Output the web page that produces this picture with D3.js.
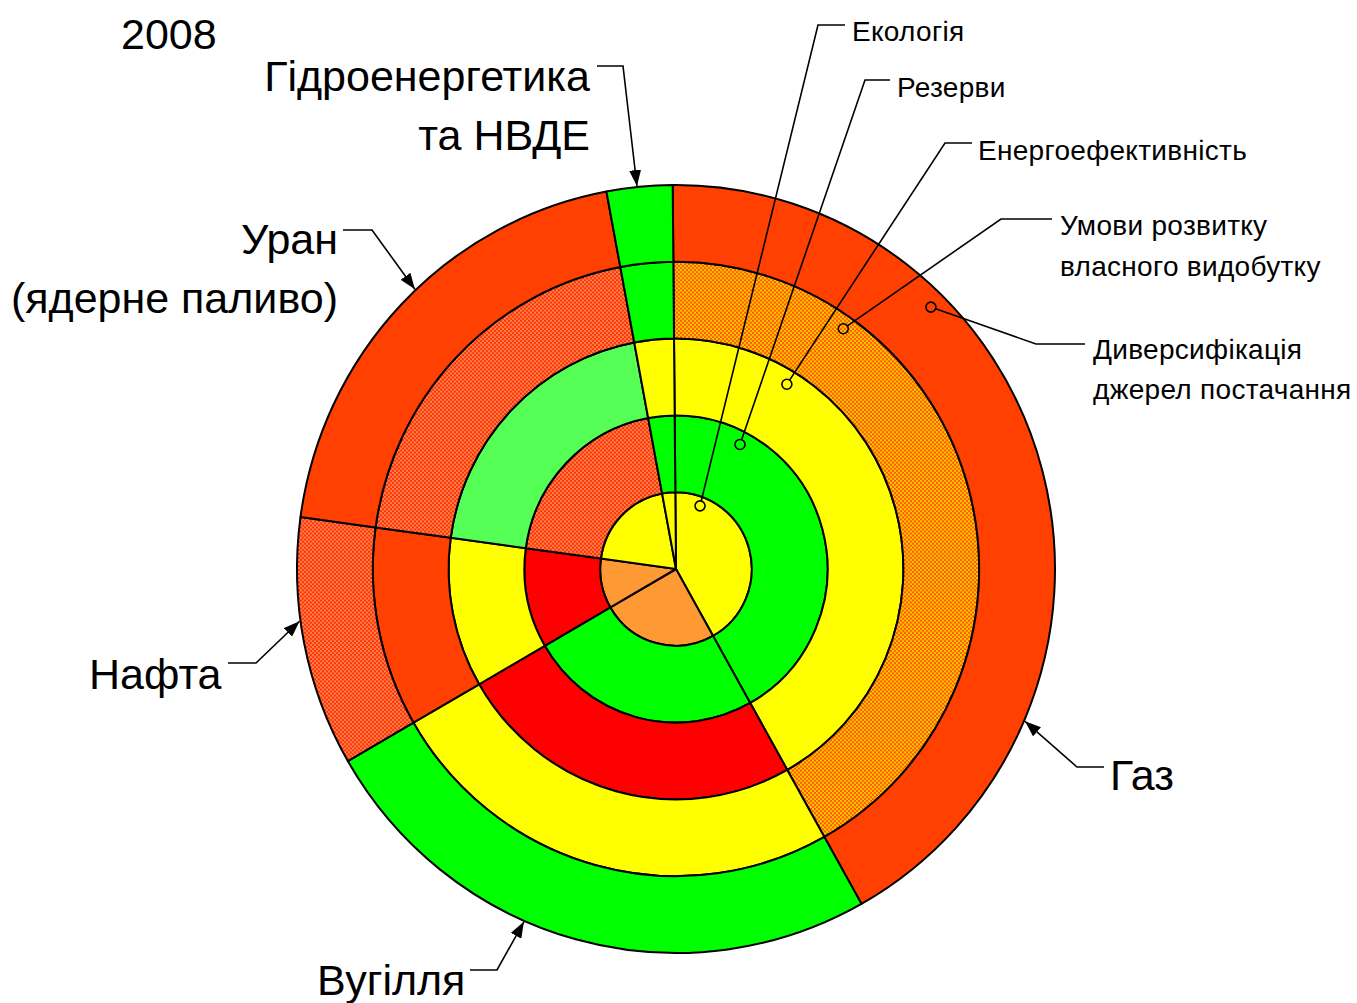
<!DOCTYPE html>
<html><head><meta charset="utf-8">
<script src="https://cdn.jsdelivr.net/npm/d3@7"></script>
<style>body{margin:0;background:#fff}text{font-family:"Liberation Sans",Arial,sans-serif;fill:#000}</style>
</head><body><svg id="c" width="1357" height="1003"></svg>
<script>
// ---------- data ----------
const fuels = ["Газ", "Вугілля", "Нафта", "Уран", "Гідроенергетика та НВДЕ"];
const shares = [42.0, 24.8, 10.5, 19.9, 2.8];
const rings = ["Екологія", "Резерви", "Енергоефективність", "Умови розвитку власного видобутку", "Диверсифікація джерел постачання"];
// rating of each fuel (Газ, Вугілля, Нафта, Уран, Гідро) per ring, inner -> outer
const ringEcology     = ["yellow", "orange", "orange", "yellow", "yellow"];
const ringReserves    = ["green", "green", "red", "hatchRed", "green"];
const ringEfficiency  = ["yellow", "red", "yellow", "lightGreen", "yellow"];
const ringProduction  = ["hatchOrange", "yellow", "redOrange", "hatchRed", "green"];
const ringDiversity   = ["redOrange", "green", "hatchRed", "redOrange", "green"];
const ringRatings = [ringEcology, ringReserves, ringEfficiency, ringProduction, ringDiversity];
const fuelLabelLines = [["Газ"], ["Вугілля"], ["Нафта"], ["Уран", "(ядерне паливо)"], ["Гідроенергетика", "та НВДЕ"]];
const ringLabelLines = [["Екологія"], ["Резерви"], ["Енергоефективність"], ["Умови розвитку", "власного видобутку"], ["Диверсифікація", "джерел постачання"]];
const title = "2008";

// ---------- layout ----------
const W = 1357, H = 1003, cx = 676, cy = 569, R = 379, sy = 1.0132;
const colors = {yellow:"#ffff00", orange:"#ff9933", green:"#00ff00", lightGreen:"#55ff55",
  red:"#ff0000", redOrange:"#ff4000", hatchRed:"url(#hr)", hatchOrange:"url(#ho)"};
const deg = Math.PI / 180;
const startA = -0.5 * deg;
const fuelLayout = [
  {tip:113.3, elbow:[1077,767], end:[1104,767], anchor:"start", x:1110, ys:[790]},
  {tip:203.6, elbow:[497,970], end:[470,970], anchor:"start", x:317, ys:[995]},
  {tip:262.2, elbow:[256,663], end:[228,663], anchor:"start", x:89, ys:[689]},
  {tip:316.6, elbow:[372,230], end:[343,230], anchor:"end", x:338, ys:[254,313]},
  {tip:354.1, elbow:[623,66], end:[597,66], anchor:"end", x:590, ys:[91,150]}
];
const ringLayout = [
  {ang:21.1, inset:9,  elbow:[818,25],  end:[845,25],  x:852,  ys:[41]},
  {ang:27.5, inset:13, elbow:[865,80],  end:[890,80],  x:897,  ys:[97]},
  {ang:31.3, inset:14, elbow:[945,143], end:[972,143], x:978,  ys:[160]},
  {ang:35.2, inset:13, elbow:[1001,219],end:[1052,219],x:1060, ys:[235,276]},
  {ang:44.6, inset:16, elbow:[1036,344],end:[1085,344],x:1093, ys:[359,399]}
];

const svg = d3.select("#c");
const defs = svg.append("defs");
function checker(id, a, b, s) {
  const p = defs.append("pattern").attr("id", id).attr("patternUnits", "userSpaceOnUse")
    .attr("width", 2*s).attr("height", 2*s);
  p.append("rect").attr("width", 2*s).attr("height", 2*s).attr("fill", a);
  p.append("rect").attr("width", s).attr("height", s).attr("fill", b);
  p.append("rect").attr("x", s).attr("y", s).attr("width", s).attr("height", s).attr("fill", b);
}
checker("hr", "#ff3300", "#ff8050", 2);
checker("ho", "#ff5a00", "#ffc800", 2);
defs.append("marker").attr("id", "arr").attr("viewBox", "0 0 16 12").attr("refX", 16).attr("refY", 6)
  .attr("markerWidth", 16).attr("markerHeight", 12).attr("markerUnits", "userSpaceOnUse").attr("orient", "auto")
  .append("path").attr("d", "M0,0L16,6L0,12Z").attr("fill", "#000");

const rScale = d3.scaleLinear().domain([0, rings.length]).range([0, R]);
const pie = d3.pie().sort(null).value(d => d).startAngle(startA).endAngle(startA + 2*Math.PI);
const arcsData = pie(shares);

const g = svg.append("g").attr("transform", `translate(${cx},${cy}) scale(1,${sy})`);
ringRatings.forEach((ratings, k) => {
  const arc = d3.arc().innerRadius(rScale(k)).outerRadius(rScale(k + 1));
  g.selectAll(null).data(arcsData).join("path")
    .attr("d", arc)
    .attr("fill", (d, i) => colors[ratings[i]])
    .attr("stroke", "#000").attr("stroke-width", 2).attr("stroke-linejoin", "round");
});

function pt(r, aDeg) {
  const a = aDeg * deg;
  return [cx + r * Math.sin(a), cy - r * Math.cos(a) * sy];
}

const mr = 5;
ringLayout.forEach((L, k) => {
  const r = rScale(k + 1) - L.inset;
  const [mx, my] = pt(r, L.ang);
  const dx = L.elbow[0] - mx, dy = L.elbow[1] - my, len = Math.hypot(dx, dy);
  const sx = mx + dx / len * mr, sy2 = my + dy / len * mr;
  svg.append("polyline").attr("points", [[sx, sy2], L.elbow, L.end].map(p => p.join(",")).join(" "))
    .attr("fill", "none").attr("stroke", "#000").attr("stroke-width", 1.6);
  svg.append("circle").attr("cx", mx).attr("cy", my).attr("r", mr)
    .attr("fill", "none").attr("stroke", "#000").attr("stroke-width", 1.6);
  ringLabelLines[k].forEach((t, j) => {
    svg.append("text").attr("x", L.x).attr("y", L.ys[j]).attr("font-size", 28)
      .attr("letter-spacing", 0.3).text(t);
  });
});

fuelLayout.forEach((L, i) => {
  const tip = pt(R + 1, L.tip);
  svg.append("polyline").attr("points", [L.end, L.elbow, tip].map(p => p.join(",")).join(" "))
    .attr("fill", "none").attr("stroke", "#000").attr("stroke-width", 1.6).attr("marker-end", "url(#arr)");
  fuelLabelLines[i].forEach((t, j) => {
    svg.append("text").attr("x", L.x).attr("y", L.ys[j]).attr("text-anchor", L.anchor)
      .attr("font-size", 43).text(t);
  });
});

svg.append("text").attr("x", 121).attr("y", 49).attr("font-size", 43).text(title);
</script></body></html>
